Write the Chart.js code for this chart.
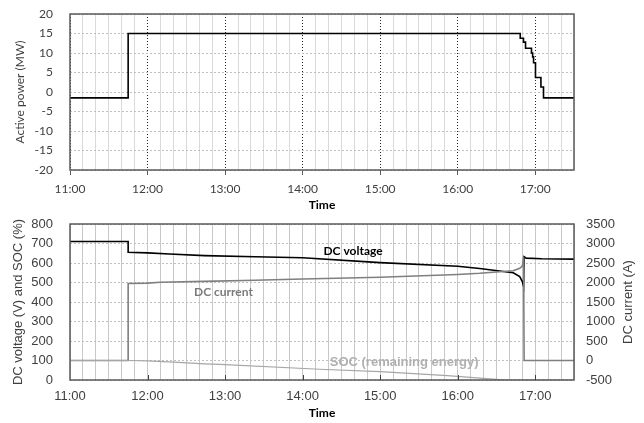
<!DOCTYPE html>
<html>
<head>
<meta charset="utf-8">
<script src="https://cdn.jsdelivr.net/npm/chart.js@4"></script>
<style>
  body { margin: 0; background: #fff; }
  canvas { position: absolute; left: 0; }
  #powerChart { top: 0; }
  #dcChart { top: 214px; }
</style>
</head>
<body>
<canvas id="powerChart" width="644" height="214"></canvas>
<canvas id="dcChart" width="644" height="209"></canvas>
<script>
    // Active power (MW), stepped
    const powerTime = ['11:00:00', '11:45:00', '16:48:24', '16:50:54', '16:52:30', '16:57:06', '16:58:00', '16:58:42', '17:00:12', '17:04:24', '17:06:24', '17:30:00'];
    const powerMW = [-1.5, 15, 13.8, 12.8, 11.2, 10.0, 9.0, 7.5, 3.7, 1.3, -1.5, -1.5];

    // DC voltage (V)
    const voltTime = ['11:00', '11:45', '11:45', '12:00', '12:17', '12:44', '13:23', '14:00', '15:00', '16:00', '16:17', '16:43', '16:48', '16:50', '16:51', '16:51:24', '16:53', '17:05', '17:30'];
    const voltV = [710, 710, 655, 652, 646, 638, 632, 627, 602, 583, 572, 550, 530, 505, 480, 632, 625, 622, 620];

    // DC current (A), right axis
    const currTime = ['11:00', '11:45', '11:45', '12:00', '12:10', '12:44', '13:23', '14:00', '15:00', '16:00', '16:17', '16:43', '16:48', '16:50', '16:51', '16:51:24', '17:30'];
    const currA = [0, 0, 1975, 1985, 2005, 2030, 2056, 2090, 2133, 2205, 2236, 2303, 2364, 2420, 2650, 0, 0];

    // SOC (%)
    const socTime = ['11:00', '11:45', '12:00', '12:24', '12:44', '12:56', '14:13', '15:00', '15:52', '16:30', '16:37', '17:30'];
    const socPct = [100, 100, 98, 90, 83, 80, 55, 43, 22, 3, 0, 0];

    // minutes after 11:00
    function toMin(s) {
        const p = s.split(':').map(Number);
        return (p[0] - 11) * 60 + p[1] + (p[2] || 0) / 60;
    }
    function pts(times, vals) {
        return times.map((t, i) => ({ x: toMin(t), y: vals[i] }));
    }
    function hourLabel(v) {
        if (Math.round(v) % 60 !== 0) return '';
        return (11 + Math.round(v) / 60) + ':00';
    }
    function isHour(c) {
        return c.tick && Math.round(c.tick.value) % 60 === 0;
    }
    // keep the plot area where the layout padding puts it
    function fitY(s) { s.width = 70; s.paddingTop = 0; s.paddingBottom = 0; }
    function fitX(h) { return s => { s.height = h; s.paddingLeft = 0; s.paddingRight = 0; }; }

    const frame = {
        id: 'frame',
        afterDraw(chart) {
            const a = chart.chartArea, ctx = chart.ctx;
            ctx.save();
            ctx.strokeStyle = '#595959';
            ctx.lineWidth = 1.5;
            ctx.strokeRect(a.left, a.top, a.right - a.left, a.bottom - a.top);
            ctx.restore();
        }
    };

    // Effekt-graf
    new Chart(document.getElementById('powerChart'), {
        type: 'line',
        data: {
            datasets: [{
                data: pts(powerTime, powerMW),
                borderColor: '#000',
                borderWidth: 1.6,
                pointRadius: 0,
                stepped: true
            }]
        },
        options: {
            responsive: false,
            animation: false,
            layout: { padding: { top: 14, right: 70, left: 0, bottom: 0 } },
            plugins: { legend: { display: false }, tooltip: { enabled: false } },
            scales: {
                x: {
                    type: 'linear', min: 0, max: 390,
                    afterFit: fitX(44),
                    ticks: { stepSize: 10, autoSkip: false, maxRotation: 0, padding: 6.8, callback: hourLabel,
                        font: { family: 'Lato', size: 12 }, color: '#404040' },
                    grid: {
                        color: c => isHour(c) ? '#222' : '#d9d9d9',
                        tickColor: c => isHour(c) ? '#595959' : 'rgba(0,0,0,0)',
                        tickLength: 5
                    },
                    border: { display: false, dash: c => isHour(c) ? [1, 2] : [] },
                    title: { display: true, text: 'Time', color: '#000',
                        font: { family: 'Lato', size: 12, weight: 'bold' }, padding: { top: 0, bottom: 1.3 } }
                },
                y: {
                    min: -20, max: 20,
                    afterFit: fitY,
                    ticks: { stepSize: 5, autoSkip: false, padding: 17, font: { family: 'Lato', size: 12 }, color: '#404040' },
                    grid: { color: '#bfbfbf', drawTicks: false },
                    border: { display: false, dash: [2, 2] },
                    title: { display: true, text: 'Active power (MW)', color: '#404040',
                        font: { family: 'Lato', size: 12 }, padding: { top: 12.8, bottom: 0 } }
                }
            }
        },
        plugins: [frame]
    });

    // DC-graf
    const dcExtras = {
        id: 'dcExtras',
        afterDraw(chart) {
            const ctx = chart.ctx, x = chart.scales.x, y = chart.scales.y, a = chart.chartArea;
            ctx.save();
            // inward hour ticks
            ctx.strokeStyle = '#404040';
            ctx.lineWidth = 1;
            for (let m = 60; m < 390; m += 60) {
                const px = Math.round(x.getPixelForValue(m)) + 0.5;
                ctx.beginPath();
                ctx.moveTo(px, a.bottom);
                ctx.lineTo(px, a.bottom - 5);
                ctx.stroke();
            }
            // series labels
            ctx.textBaseline = 'middle';
            ctx.font = 'bold 12px Lato';
            ctx.fillStyle = '#000';
            ctx.textAlign = 'center';
            ctx.fillText('DC voltage', x.getPixelForValue(219), y.getPixelForValue(662));
            ctx.fillStyle = '#7a7a7a';
            ctx.textAlign = 'left';
            ctx.fillText('DC current', x.getPixelForValue(96), y.getPixelForValue(453));
            ctx.font = 'bold 13px "Liberation Sans"';
            ctx.fillStyle = '#b0b0b0';
            ctx.fillText('SOC (remaining energy)', x.getPixelForValue(201), y.getPixelForValue(91));
            // right axis title, reading upwards
            ctx.font = '13px "Liberation Sans"';
            ctx.fillStyle = '#404040';
            ctx.textAlign = 'center';
            ctx.translate(628, (a.top + a.bottom) / 2);
            ctx.rotate(-Math.PI / 2);
            ctx.fillText('DC current (A)', 0, 0);
            ctx.restore();
        }
    };

    new Chart(document.getElementById('dcChart'), {
        type: 'line',
        data: {
            datasets: [{
                label: 'SOC',
                data: pts(socTime, socPct),
                borderColor: '#a6a6a6', borderWidth: 1.2, pointRadius: 0, yAxisID: 'y'
            }, {
                label: 'DC current',
                data: pts(currTime, currA),
                borderColor: '#7f7f7f', borderWidth: 1.6, pointRadius: 0, yAxisID: 'y1'
            }, {
                label: 'DC voltage',
                data: pts(voltTime, voltV),
                borderColor: '#000', borderWidth: 1.6, pointRadius: 0, yAxisID: 'y'
            }]
        },
        options: {
            responsive: false,
            animation: false,
            layout: { padding: { top: 10, right: 0, left: 0, bottom: 0 } },
            plugins: { legend: { display: false }, tooltip: { enabled: false } },
            scales: {
                x: {
                    type: 'linear', min: 0, max: 390,
                    afterFit: fitX(43),
                    ticks: { stepSize: 10, autoSkip: false, maxRotation: 0, padding: 8.2, callback: hourLabel,
                        font: { family: 'Liberation Sans', size: 13 }, color: '#404040' },
                    grid: { color: '#c8c8c8', drawTicks: false },
                    border: { display: false },
                    title: { display: true, text: 'Time', color: '#000',
                        font: { family: 'Lato', size: 12, weight: 'bold' }, padding: { top: 0, bottom: 2.8 } }
                },
                y: {
                    position: 'left', min: 0, max: 800,
                    afterFit: fitY,
                    ticks: { stepSize: 100, autoSkip: false, padding: 17, font: { family: 'Liberation Sans', size: 13 }, color: '#404040' },
                    grid: { color: '#bfbfbf', drawTicks: false },
                    border: { display: false, dash: [2, 2] },
                    title: { display: true, text: 'DC voltage (V) and SOC (%)', color: '#404040',
                        font: { family: 'Liberation Sans', size: 13 }, padding: { top: 11, bottom: 0 } }
                },
                y1: {
                    position: 'right', min: -500, max: 3500,
                    afterFit: fitY,
                    ticks: { stepSize: 500, autoSkip: false, padding: 12, callback: v => String(v),
                        font: { family: 'Liberation Sans', size: 13 }, color: '#404040' },
                    grid: { drawOnChartArea: false, drawTicks: false },
                    border: { display: false }
                }
            }
        },
        plugins: [frame, dcExtras]
    });
</script>
</body>
</html>
